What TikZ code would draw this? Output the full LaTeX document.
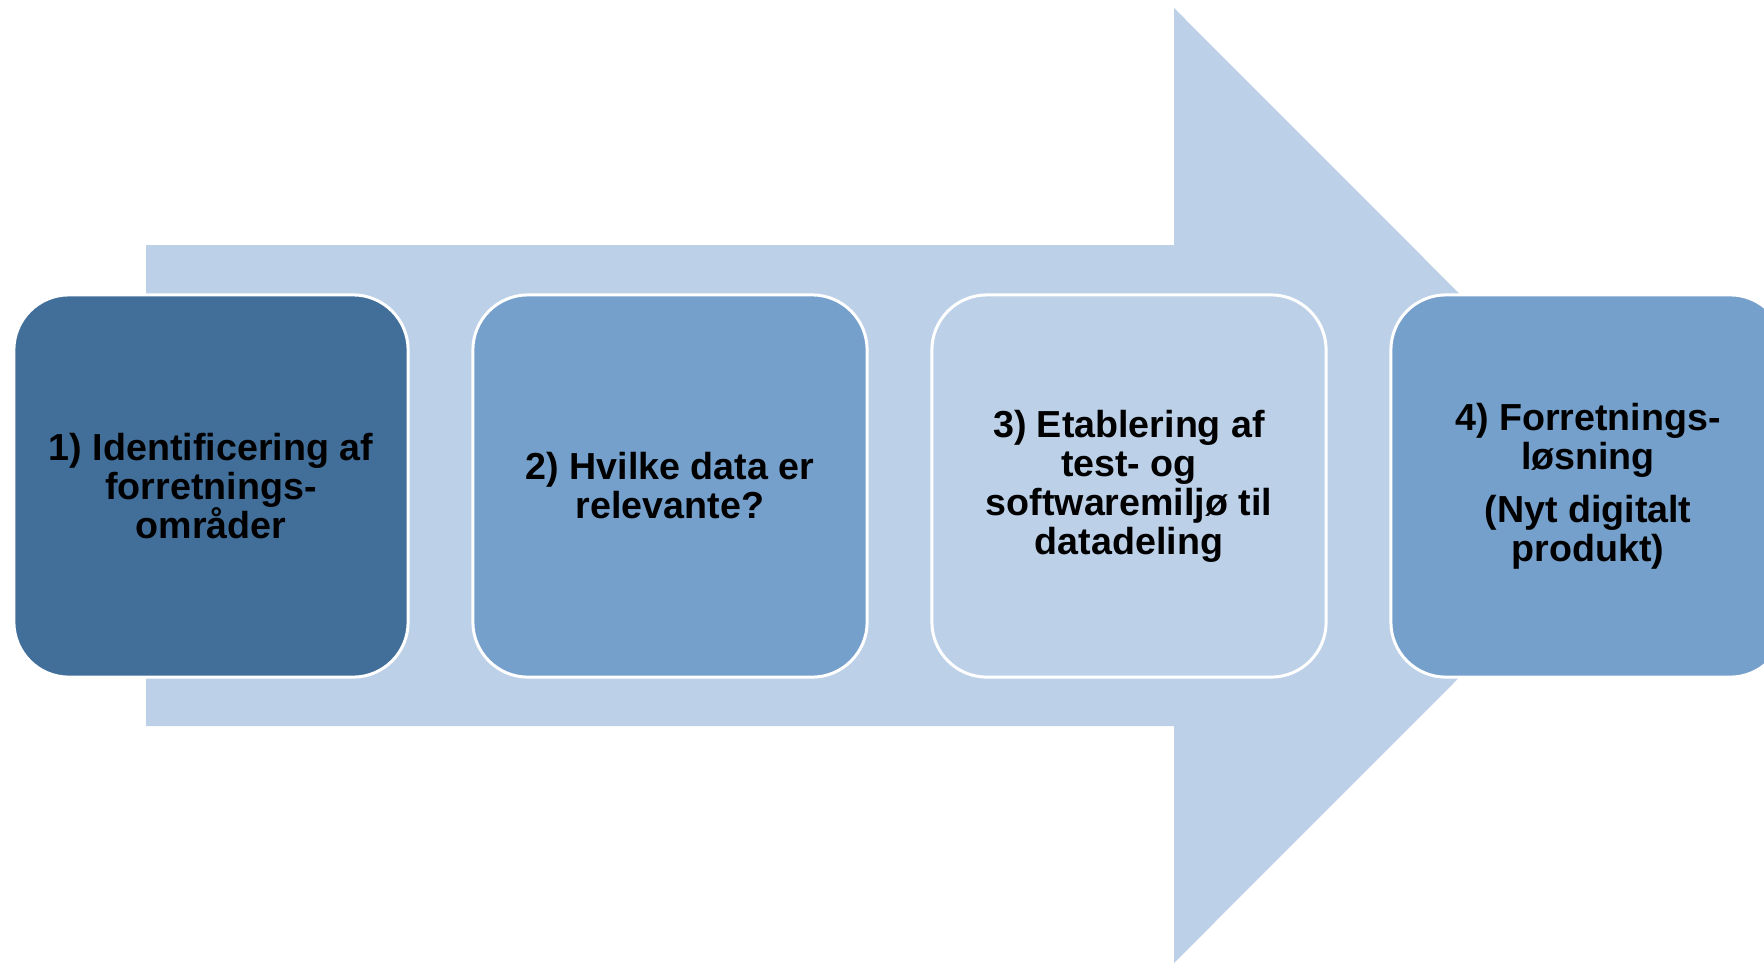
\documentclass[tikz,border=0pt]{standalone}
\usepackage{fontspec}
\setmainfont{Liberation Sans}
\definecolor{arrowfill}{HTML}{BCD0E8}
\definecolor{darkbox}{HTML}{426F9A}
\definecolor{midbox}{HTML}{75A0CB}
\definecolor{lightbox}{HTML}{BCD0E8}
\begin{document}
\begin{tikzpicture}[x=0.01cm,y=-0.01cm,
  stepbox/.style={rectangle, rounded corners=0.55cm, draw=white, line width=0.03cm,
    minimum width=3.94cm, minimum height=3.82cm, align=center, inner sep=0pt,
    font=\fontsize{10.7pt}{11.1pt}\selectfont\bfseries, text=black},
  bigarrow/.style={fill=arrowfill, draw=none}]
\useasboundingbox (0,0) rectangle (1764,963);
\fill[bigarrow] (146,245) -- (1174,245) -- (1174,8) -- (1651,485.5) -- (1174,963) -- (1174,726) -- (146,726) -- cycle;
\node[stepbox, fill=darkbox] (s1) at (211,486) {1) Identificering af\\forretnings-\\områder};
\node[stepbox, fill=midbox] (s2) at (670,486) {2) Hvilke data er\\relevante?};
\node[stepbox, fill=lightbox] (s3) at (1129,486) {3) Etablering af\\test- og\\softwaremiljø til\\datadeling};
\node[stepbox, fill=midbox] (s4) at (1588,486) {4) Forretnings-\\løsning\\[0.14cm](Nyt digitalt\\produkt)};
\end{tikzpicture}
\end{document}
